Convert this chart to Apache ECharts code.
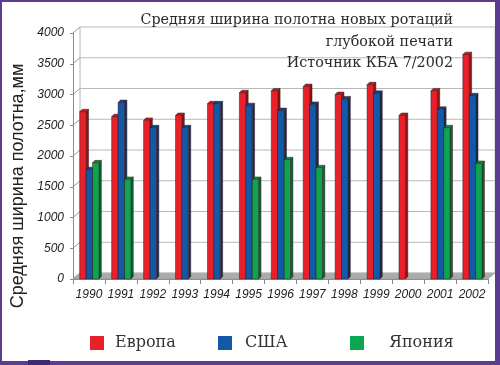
<!DOCTYPE html>
<html><head><meta charset="utf-8">
<script src="https://cdn.jsdelivr.net/npm/echarts@6/dist/echarts.min.js"></script>
<style>html,body{margin:0;padding:0;background:#fff}#c{width:500px;height:365px}</style>
</head><body><div id="c"></div>
<script>
const years = ['1990','1991','1992','1993','1994','1995','1996','1997','1998','1999','2000','2001','2002'];
const europe = [2720, 2640, 2580, 2660, 2850, 3030, 3060, 3130, 3000, 3160, 2660, 3060, 3650];
const usa    = [1780, 2870, 2460, 2460, 2850, 2820, 2740, 2840, 2930, 3020, null, 2760, 2980];
const japan  = [1890, 1620, null, null, null, 1620, 1940, 1810, null, null, null, 2460, 1880];
const yTicks = [0, 500, 1000, 1500, 2000, 2500, 3000, 3500, 4000];
const seriesNames = ['Европа', 'США', 'Япония'];
const titleLines = ['Средняя ширина полотна новых ротаций', 'глубокой печати', 'Источник КБА 7/2002'];
const yName = 'Средняя ширина полотна,мм';

const colors = [
  {front:'#e8202a', side:'#8f1218', top:'#c4161f'},
  {front:'#1458a8', side:'#0b2e63', top:'#0f4488'},
  {front:'#0ca550', side:'#066636', top:'#0a8a42'}
];
const DX = 7, DY = -6;   // depth offset of back wall
const BW = 6.4, BD = 2.4; // bar front width, bar depth

function barSeries(idx, data) {
  const c = colors[idx];
  return {
    type: 'custom', name: seriesNames[idx], z: 5 + idx,
    itemStyle: {color: c.front},
    data: data.map((v, i) => [i, v]),
    encode: {x: 0, y: 1},
    renderItem: function (params, api) {
      const v = api.value(1);
      if (v == null || isNaN(v)) return;
      const top = api.coord([api.value(0), v]);
      const base = api.coord([api.value(0), 0]);
      const x = top[0] - 9.2 + idx * BW;
      const yT = top[1], yB = base[1];
      const stroke = '#3a1a1a';
      return {type: 'group', children: [
        {type: 'polygon', shape: {points: [[x + BW, yT], [x + BW + BD, yT - BD], [x + BW + BD, yB - BD], [x + BW, yB]]},
          style: {fill: c.side, stroke: stroke, lineWidth: 0.5}},
        {type: 'polygon', shape: {points: [[x, yT], [x + BD, yT - BD], [x + BW + BD, yT - BD], [x + BW, yT]]},
          style: {fill: c.top, stroke: stroke, lineWidth: 0.5}},
        {type: 'rect', shape: {x: x, y: yT, width: BW, height: yB - yT},
          style: {fill: c.front, stroke: stroke, lineWidth: 0.5}}
      ]};
    }
  };
}

const wallSeries = {
  type: 'custom', name: 'wall', z: 1, silent: true,
  data: yTicks.map(v => [0, v]),
  encode: {x: 0, y: 1},
  renderItem: function (params, api) {
    const cs = params.coordSys;
    const v = api.value(1);
    const y = api.coord([0, v])[1];
    const x0 = cs.x, x1 = cs.x + cs.width;
    const ch = [
      {type: 'line', shape: {x1: x0 + DX, y1: y + DY, x2: x1 + DX, y2: y + DY}, style: {stroke: '#b8b8b8', lineWidth: 1}},
      {type: 'line', shape: {x1: x0, y1: y, x2: x0 + DX, y2: y + DY}, style: {stroke: '#9a9a9a', lineWidth: 1}}
    ];
    if (v === 0) {
      ch.unshift({type: 'polygon', shape: {points: [[x0, y], [x0 + DX, y + DY], [x1 + DX, y + DY], [x1, y]]},
        style: {fill: '#ababab', stroke: '#999', lineWidth: 0.5}});
      const yTop = api.coord([0, yTicks[yTicks.length - 1]])[1];
      ch.push({type: 'line', shape: {x1: x0 + DX, y1: y + DY, x2: x0 + DX, y2: yTop + DY}, style: {stroke: '#b4b4b4', lineWidth: 1}});
      ch.push({type: 'line', shape: {x1: x1 + DX, y1: y + DY, x2: x1 + DX, y2: yTop + DY}, style: {stroke: '#c4c4c4', lineWidth: 1}});
    }
    return {type: 'group', children: ch};
  }
};

const purple = '#5a3d91';
const legendBase = {
  orient: 'horizontal', itemWidth: 14, itemHeight: 14, icon: 'rect', selectedMode: false, top: 330,
  textStyle: {fontFamily: 'DejaVu Serif', fontSize: 16, color: '#333', padding: [0, 0, 0, 7]}
};
function legendAt(i, left, pad) {
  return Object.assign({}, legendBase, {data: [seriesNames[i]], left: left,
    textStyle: Object.assign({}, legendBase.textStyle, {padding: [0, 0, 0, pad]})});
}

const chart = echarts.init(document.getElementById('c'), null, {renderer: 'canvas'});
chart.setOption({
  animation: false,
  backgroundColor: '#ffffff',
  legend: [legendAt(0, 85, 6), legendAt(1, 213, 8), legendAt(2, 345, 20)],
  grid: {left: 73, right: 12, top: 33, bottom: 86, containLabel: false},
  xAxis: {
    type: 'category', data: years, boundaryGap: true,
    axisLine: {show: true, lineStyle: {color: '#8a8a8a', width: 1}},
    axisTick: {show: true, length: 5, alignWithLabel: false, lineStyle: {color: '#8a8a8a'}},
    axisLabel: {fontFamily: 'Liberation Sans', fontStyle: 'italic', fontSize: 12, color: '#222', margin: 10, interval: 0},
    splitLine: {show: false}
  },
  yAxis: {
    type: 'value', min: 0, max: 4000, interval: 500,
    axisLine: {show: true, lineStyle: {color: '#8a8a8a', width: 1}},
    axisTick: {show: true, length: 3, lineStyle: {color: '#8a8a8a'}},
    axisLabel: {fontFamily: 'Liberation Sans', fontStyle: 'italic', fontSize: 12, color: '#222', margin: 9,
      formatter: v => String(v)},
    splitLine: {show: false}
  },
  graphic: [
    {type: 'text', silent: true, z: 50, x: 453, y: 10,
      style: {text: titleLines.join('\n'), align: 'right', verticalAlign: 'top',
        font: '14.3px "DejaVu Serif"', fill: '#2a2a2a', lineHeight: 21.5}},
    {type: 'text', silent: true, z: 50, x: 18, y: 186, rotation: Math.PI / 2,
      style: {text: yName, align: 'center', verticalAlign: 'middle',
        font: '18px "Liberation Sans"', fill: '#222'}},
    {type: 'rect', silent: true, z: 100, shape: {x: 0, y: 0, width: 500, height: 2}, style: {fill: purple}},
    {type: 'rect', silent: true, z: 100, shape: {x: 0, y: 0, width: 2, height: 365}, style: {fill: purple}},
    {type: 'rect', silent: true, z: 100, shape: {x: 495, y: 0, width: 5, height: 365}, style: {fill: purple}},
    {type: 'rect', silent: true, z: 100, shape: {x: 0, y: 361, width: 500, height: 4}, style: {fill: purple}},
    {type: 'rect', silent: true, z: 100, shape: {x: 28, y: 360, width: 22, height: 5}, style: {fill: '#3e2a70'}}
  ],
  series: [wallSeries, barSeries(0, europe), barSeries(1, usa), barSeries(2, japan)]
});
</script></body></html>
